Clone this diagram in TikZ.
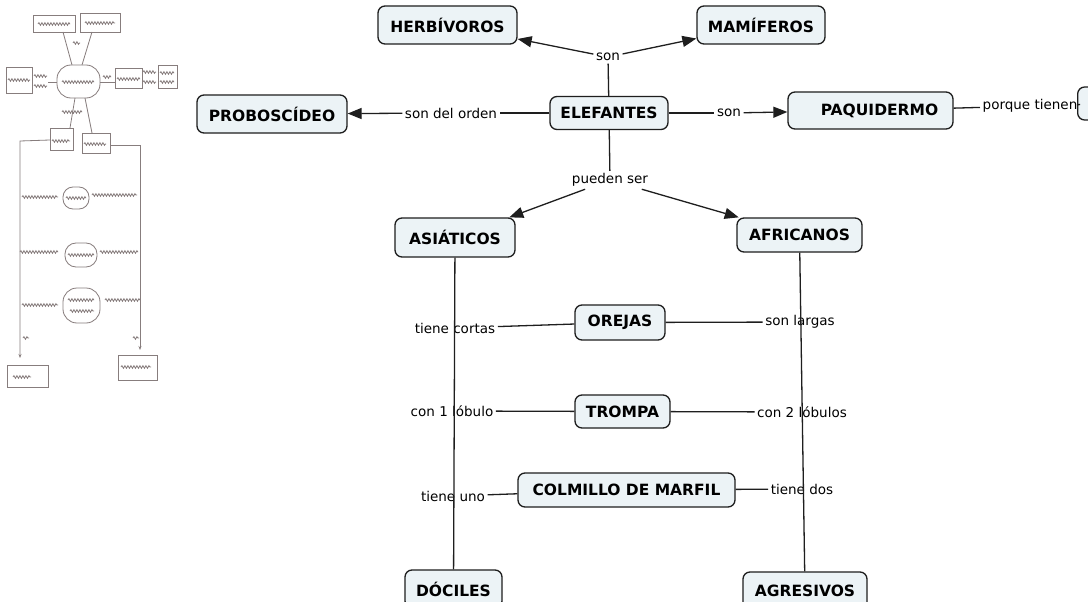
\documentclass[tikz,border=0pt]{standalone}
\usepackage{fontspec}
\setmainfont{DejaVu Sans}
\usetikzlibrary{arrows.meta,decorations.pathmorphing}

\definecolor{boxfill}{RGB}{236,243,246}
\definecolor{ink}{RGB}{30,30,30}
\definecolor{pencil}{RGB}{135,125,125}

% a short hand-written word in the pencil sketch
\newcommand\squig[3]{\draw[sketch,squiggle] (#1,#2) -- ++(#3,0);}

\begin{document}
\begin{tikzpicture}[x=1pt,y=-1pt,
  concept/.style={draw=ink, line width=1.3pt, rounded corners=7pt, fill=boxfill,
    font=\fontsize{15.5}{18}\selectfont\bfseries, inner xsep=8pt, inner ysep=0pt},
  link/.style={font=\fontsize{13.5}{16}\selectfont, inner sep=2.5pt},
  conn/.style={draw=ink, line width=1.3pt},
  arr/.style={conn, -{Triangle[length=14pt,width=11pt]}},
  sketch/.style={draw=pencil, line width=0.8pt},
  squiggle/.style={decorate, decoration={snake, amplitude=1.3pt, segment length=3pt}},
  sketcharr/.style={sketch, -{Stealth[length=4pt,width=3pt]}}
]
\useasboundingbox (0,0) rectangle (1088,602);
\fill[white] (0,0) rectangle (1088,602);

% ---------- pencil draft of the map ----------
\draw[sketch] (33,15) rectangle (75,32);  \squig{38}{24}{32}
\draw[sketch] (80,13) rectangle (120,32); \squig{85}{23}{30}
\draw[sketch, rounded corners=14pt] (57,65) rectangle (100,98); \squig{62}{82}{32}
\draw[sketch] (72,65) -- (63,32);
\draw[sketch] (82,65) -- (92,32);
\squig{73}{43}{7}
\draw[sketch] (6,67) rectangle (32,93); \squig{8}{80}{22}
\squig{34}{76}{13} \squig{34}{86}{13}
\draw[sketch] (48,82) -- (57,82);
\squig{103}{77}{8}
\draw[sketch] (100,82) -- (115,82);
\draw[sketch] (115,68) rectangle (142,88); \squig{117}{79}{23}
\squig{143}{72}{13} \squig{143}{82}{13}
\draw[sketch] (158,65) rectangle (177,88); \squig{160}{73}{14} \squig{160}{82}{14}
\squig{62}{112}{20}
\draw[sketch] (75,98) -- (70,128);
\draw[sketch] (85,98) -- (92,133);
\draw[sketch] (50,128) rectangle (73,150); \squig{52}{141}{18}
\draw[sketch] (82,133) rectangle (110,153); \squig{84}{144}{22}
\draw[sketcharr] (50,140) -- (20,141) -- (20,358);
\draw[sketcharr] (110,145) -- (140,145) -- (140,350);
\draw[sketch, rounded corners=10pt] (63,187) rectangle (89,209); \squig{66}{198}{20}
\squig{22}{197}{36} \squig{92}{195}{45}
\draw[sketch, rounded corners=11pt] (65,243) rectangle (97,267); \squig{68}{255}{26}
\squig{20}{252}{38} \squig{100}{252}{38}
\draw[sketch, rounded corners=14pt] (63,288) rectangle (100,323); \squig{68}{300}{26} \squig{70}{311}{24}
\squig{22}{305}{36} \squig{105}{300}{35}
\squig{23}{338}{6} \squig{133}{338}{6}
\draw[sketch] (7,365) rectangle (48,387); \squig{13}{377}{18}
\draw[sketch] (118,355) rectangle (157,380); \squig{121}{367}{30}

% ---------- concepts ----------
\node[concept, minimum width=139pt, minimum height=38pt] (herb) at (447.5,25) {HERBÍVOROS};
\node[concept, minimum width=128pt, minimum height=38pt] (mami) at (761,25) {MAMÍFEROS};
\node[concept, minimum width=118pt, minimum height=33pt] (elef) at (609,113) {ELEFANTES};
\node[concept, minimum width=150pt, minimum height=38pt] (probo) at (272,114) {PROBOSCÍDEO};
\node[concept, minimum width=165pt, minimum height=37pt] (paqui) at (870.5,110.5) {\hspace*{18pt}PAQUIDERMO};
\node[concept, minimum width=80pt, minimum height=33pt, anchor=west] (rasgo) at (1077,103.5) {};
\node[concept, minimum width=120pt, minimum height=39pt] (asia) at (455,237.5) {ASIÁTICOS};
\node[concept, minimum width=125pt, minimum height=34pt] (afri) at (799.5,235) {AFRICANOS};
\node[concept, minimum width=90pt, minimum height=35pt] (orej) at (620,322.5) {OREJAS};
\node[concept, minimum width=95pt, minimum height=33pt] (tromp) at (622.5,411.5) {TROMPA};
\node[concept, minimum width=217pt, minimum height=34pt] (colm) at (626.5,490) {COLMILLO DE MARFIL};
\node[concept, minimum width=97pt, minimum height=38pt] (doci) at (453.5,589) {DÓCILES};
\node[concept, minimum width=124pt, minimum height=38pt] (agre) at (805,591) {AGRESIVOS};

% ---------- linking phrases ----------
\node[link] (son1) at (608,57) {son};
\node[link] (orden) at (451,113) {son del orden};
\node[link] (son2) at (729,113) {son};
\node[link] (porque) at (1030,106) {porque tienen};
\node[link] (pueden) at (610,180) {pueden ser};
\node[link] (cortas) at (455,328) {tiene cortas};
\node[link] (largas) at (800,322) {son largas};
\node[link] (lob1) at (452,411) {con 1 lóbulo};
\node[link] (lob2) at (802,412) {con 2 lóbulos};
\node[link] (uno) at (453,496) {tiene uno};
\node[link] (dos) at (802,489) {tiene dos};

% ---------- connectors ----------
\draw[conn] (elef) -- (son1);
\draw[arr] (son1) -- (herb);
\draw[arr] (son1) -- (mami);
\draw[conn] (elef) -- (orden);
\draw[arr] (orden) -- (probo);
\draw[conn] (elef) -- (son2);
\draw[arr] (son2) -- (paqui);
\draw[conn] (paqui) -- (porque);
\draw[conn] (porque) -- (rasgo);
\draw[conn] (elef) -- (pueden);
\draw[arr] (pueden) -- (asia);
\draw[arr] (pueden) -- (afri);
\draw[conn] (asia) -- (doci);
\draw[conn] (afri) -- (agre);
\draw[conn] (orej) -- (cortas);
\draw[conn] (orej) -- (largas);
\draw[conn] (tromp) -- (lob1);
\draw[conn] (tromp) -- (lob2);
\draw[conn] (colm) -- (uno);
\draw[conn] (colm) -- (dos);
\end{tikzpicture}
\end{document}
